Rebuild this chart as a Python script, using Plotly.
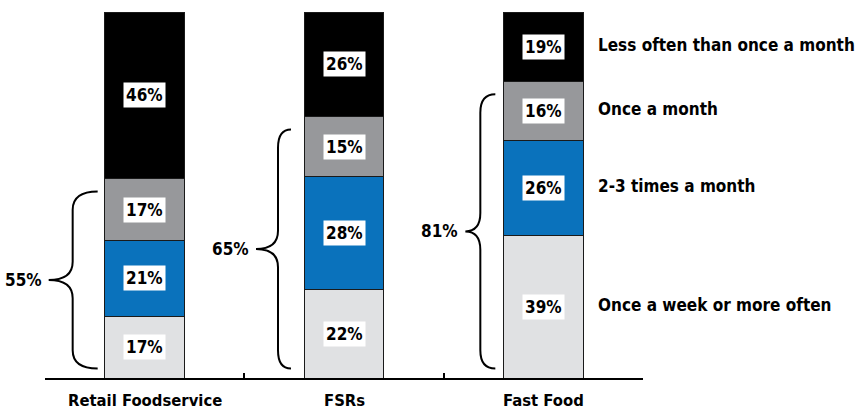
import plotly.graph_objects as go

# ---------------- data ----------------
categories = ["Retail Foodservice", "FSRs", "Fast Food"]
frequencies = ["Once a week or more often", "2-3 times a month",
               "Once a month", "Less often than once a month"]
weekly_or_more = [17, 22, 39]
two_three_month = [21, 28, 26]
once_month = [17, 15, 16]
less_than_month = [46, 26, 19]
bracket_totals = ["55%", "65%", "81%"]

# ---------------- style ----------------
colors = ["#e0e1e3", "#0a72bc", "#97989b", "#000000"]
FONT = "DejaVu Sans Condensed, Liberation Sans Narrow, Arial Narrow, sans-serif"
W, H = 864, 409
ML, MR, MT, MB = 45, 221, 12, 31
PX_X = (W - ML - MR) / 3.0      # pixels per x unit
PX_Y = (H - MT - MB) / 100.0    # pixels per y unit
BAR_W = 0.4
# brace geometry per bar: (end, vertical, tip) px offsets from bar center
BRACE_PX = [(-47, -72, -96), (-53, -66, -88), (-48, -63, -78)]

series = [weekly_or_more, two_three_month, once_month, less_than_month]
xpos = list(range(len(categories)))


def to_paper(x):
    return (x + 0.5) / 3.0


fig = go.Figure()
for name, vals, col in zip(frequencies, series, colors):
    fig.add_bar(x=xpos, y=vals, name=name, width=BAR_W,
                marker=dict(color=col, line=dict(color="#1a1a1a", width=1)))

totals = [sum(s[i] for s in series) for i in range(len(categories))]
annotations = []
shapes = []
for i in xpos:
    cum = 0.0
    bounds = []
    for s in series:
        v = s[i] / totals[i] * 100
        annotations.append(dict(
            x=i, y=cum + v / 2, xref="x", yref="y", text=f"<b>{s[i]}%</b>",
            showarrow=False, bgcolor="white", borderpad=2,
            font=dict(family=FONT, size=17, color="black")))
        cum += v
        bounds.append(cum)
    # brace covers the three lower segments
    top = bounds[2] - 3.5
    bot = 2.6
    mid = (top + bot) / 2
    e, v_, t = [i + p / PX_X for p in BRACE_PX[i]]
    r = 5.0
    path = (f"M {e},{top} Q {v_},{top} {v_},{top - r} "
            f"L {v_},{mid + r} Q {v_},{mid} {t},{mid} "
            f"Q {v_},{mid} {v_},{mid - r} "
            f"L {v_},{bot + r} Q {v_},{bot} {e},{bot}")
    shapes.append(dict(type="path", path=path, xref="x", yref="y",
                       line=dict(color="black", width=2)))
    annotations.append(dict(
        x=to_paper(t - 5 / PX_X), y=mid, xref="paper", yref="y",
        text=f"<b>{bracket_totals[i]}</b>", showarrow=False,
        xanchor="right", yanchor="middle",
        font=dict(family=FONT, size=17, color="black")))
    # category label
    annotations.append(dict(
        x=to_paper(i), y=0, xref="paper", yref="paper", yshift=-22,
        text=f"<b>{categories[i]}</b>", showarrow=False,
        xanchor="center", yanchor="middle",
        font=dict(family=FONT, size=16.5, color="black")))

# series labels next to the last bar
last = len(categories) - 1
cum = 0.0
for name, s in zip(frequencies, series):
    v = s[last] / totals[last] * 100
    annotations.append(dict(
        x=to_paper(last + BAR_W / 2 + 13 / PX_X), y=cum + v / 2 + 0.5,
        xref="paper", yref="y", text=f"<b>{name}</b>", showarrow=False,
        xanchor="left", yanchor="middle",
        font=dict(family=FONT, size=17, color="black")))
    cum += v

fig.update_layout(
    width=W, height=H, barmode="stack", barnorm="percent",
    margin=dict(l=ML, r=MR, t=MT, b=MB, autoexpand=False),
    paper_bgcolor="white", plot_bgcolor="white", showlegend=False,
    xaxis=dict(range=[-0.5, 2.5], showline=True, linecolor="black", linewidth=1.5,
               ticks="inside", tickvals=[-0.5, 0.5, 1.5, 2.5], ticklen=5,
               tickcolor="black", tickwidth=1.5, showticklabels=False,
               showgrid=False, zeroline=False, fixedrange=True),
    yaxis=dict(range=[0, 100], visible=False, fixedrange=True),
    annotations=annotations, shapes=shapes,
)

fig.write_html("out.html", config={"displayModeBar": False})
